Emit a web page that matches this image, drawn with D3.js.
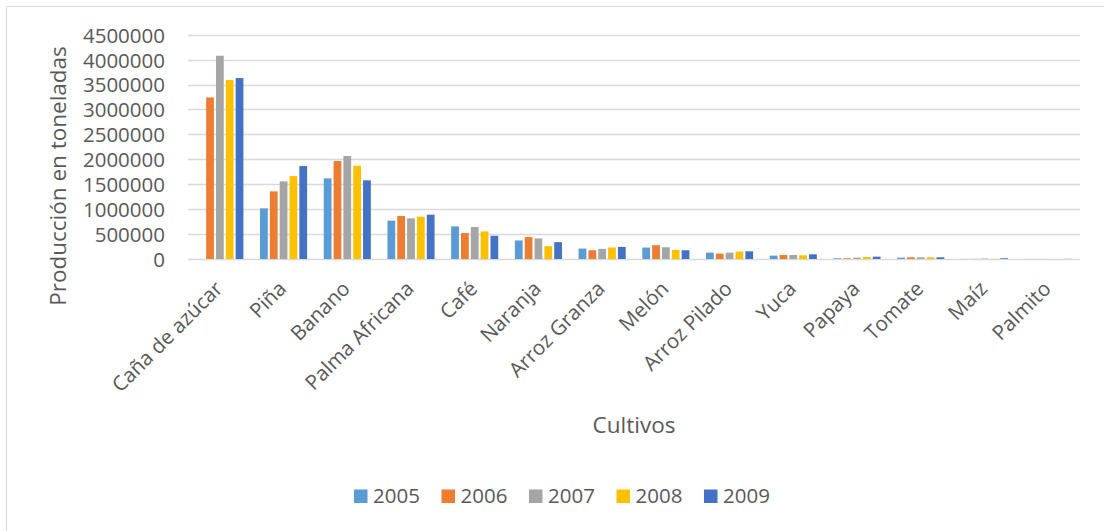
<!DOCTYPE html>
<html>
<head>
<meta charset="utf-8">
<script src="https://cdn.jsdelivr.net/npm/d3@7"></script>
<style>
  html, body { margin: 0; padding: 0; background: #fff; }
  svg { display: block; font-family: "Open Sans", sans-serif; }
</style>
</head>
<body>
<svg id="chart" width="1104" height="531"></svg>
<script>
const categories = ["Caña de azúcar", "Piña", "Banano", "Palma Africana", "Café", "Naranja",
  "Arroz Granza", "Melón", "Arroz Pilado", "Yuca", "Papaya", "Tomate", "Maíz", "Palmito"];
const years = ["2005", "2006", "2007", "2008", "2009"];
const colors = ["#5B9BD5", "#ED7D31", "#A5A5A5", "#FFC000", "#4472C4"];
const v2005 = [0, 1016000, 1618000, 769000, 655000, 372000, 209000, 230000, 128000, 68000, 14000, 27000, 2000, 500];
const v2006 = [3242000, 1357000, 1965000, 862000, 520000, 439000, 176000, 277000, 108000, 81000, 14000, 34000, 2000, 500];
const v2007 = [4078000, 1557000, 2066000, 816000, 642000, 412000, 203000, 236000, 128000, 81000, 27000, 34000, 8000, 500];
const v2008 = [3590000, 1664000, 1872000, 849000, 554000, 257000, 230000, 182000, 149000, 74000, 41000, 34000, 2000, 500];
const v2009 = [3630000, 1865000, 1578000, 889000, 466000, 338000, 243000, 176000, 155000, 95000, 47000, 34000, 15000, 3000];
const yTicks = [0, 500000, 1000000, 1500000, 2000000, 2500000, 3000000, 3500000, 4000000, 4500000];
const yTitle = "Producción en toneladas";
const xTitle = "Cultivos";

(function () {
const series = [v2005, v2006, v2007, v2008, v2009];
const svg = d3.select("#chart");
const textColor = "#595959";
const gridColor = "#d9d9d9";

svg.append("line").attr("x1", 6.5).attr("x2", 1104).attr("y1", 6.5).attr("y2", 6.5).attr("stroke", gridColor);
svg.append("line").attr("x1", 6.5).attr("x2", 6.5).attr("y1", 6.5).attr("y2", 531).attr("stroke", gridColor);

const pLeft = 188, pRight = 1080, pTop = 34.7, pBottom = 259;
const y = d3.scaleLinear().domain([0, 4500000]).range([pBottom, pTop]);
const x0 = d3.scaleBand().domain(categories).range([pLeft, pRight]).paddingInner(0.23).paddingOuter(0.115);
const x1 = d3.scaleBand().domain(years).range([0, x0.bandwidth()]).paddingInner(0.21).paddingOuter(0.1);

svg.append("g").selectAll("line").data(yTicks).join("line")
  .attr("x1", pLeft).attr("x2", pRight)
  .attr("y1", d => Math.round(y(d)) + 0.5).attr("y2", d => Math.round(y(d)) + 0.5)
  .attr("stroke", gridColor).attr("stroke-width", 1.3);

const yAxis = d3.axisLeft(y).tickValues(yTicks).tickSize(0).tickPadding(0).tickFormat(d3.format("d"));
const gy = svg.append("g").attr("transform", "translate(165,0)").call(yAxis);
gy.select(".domain").remove();
gy.selectAll("text").attr("fill", textColor).style("font-size", "20.5px").style("font-family", "Open Sans").attr("dy", "0.36em");

const groups = svg.append("g").selectAll("g").data(categories).join("g")
  .attr("transform", d => `translate(${x0(d)},0)`);
groups.selectAll("rect").data((c, i) => years.map((yr, k) => ({yr, k, v: series[k][i]}))).join("rect")
  .attr("x", d => x1(d.yr)).attr("width", x1.bandwidth())
  .attr("y", d => y(d.v)).attr("height", d => pBottom - y(d.v))
  .attr("fill", d => colors[d.k]);

const xAxis = d3.axisBottom(x0).tickSize(0).tickPadding(0);
const gx = svg.append("g").attr("transform", `translate(0,${pBottom})`).call(xAxis);
gx.select(".domain").remove();
gx.selectAll("text")
  .attr("fill", textColor).style("font-size", "20.5px").style("font-family", "Open Sans")
  .attr("text-anchor", "end").attr("dy", 0).attr("y", 0)
  .attr("transform", "translate(4,31) rotate(-45)");

svg.append("text").attr("transform", "translate(66,176) rotate(-90)")
  .attr("text-anchor", "middle").attr("fill", textColor).style("font-size", "22.5px").text(yTitle);
svg.append("text").attr("x", (pLeft + pRight) / 2).attr("y", 433)
  .attr("text-anchor", "middle").attr("fill", textColor).style("font-size", "22.5px").text(xTitle);

const legend = svg.append("g").selectAll("g").data(years).join("g")
  .attr("transform", (d, i) => `translate(${354 + i * 87.5},489.5)`);
legend.append("rect").attr("width", 13.5).attr("height", 13.5).attr("fill", (d, i) => colors[i]);
legend.append("text").attr("x", 19).attr("y", 13.5).attr("fill", textColor)
  .style("font-size", "20.5px").text(d => d);
})();
</script>
</body>
</html>
